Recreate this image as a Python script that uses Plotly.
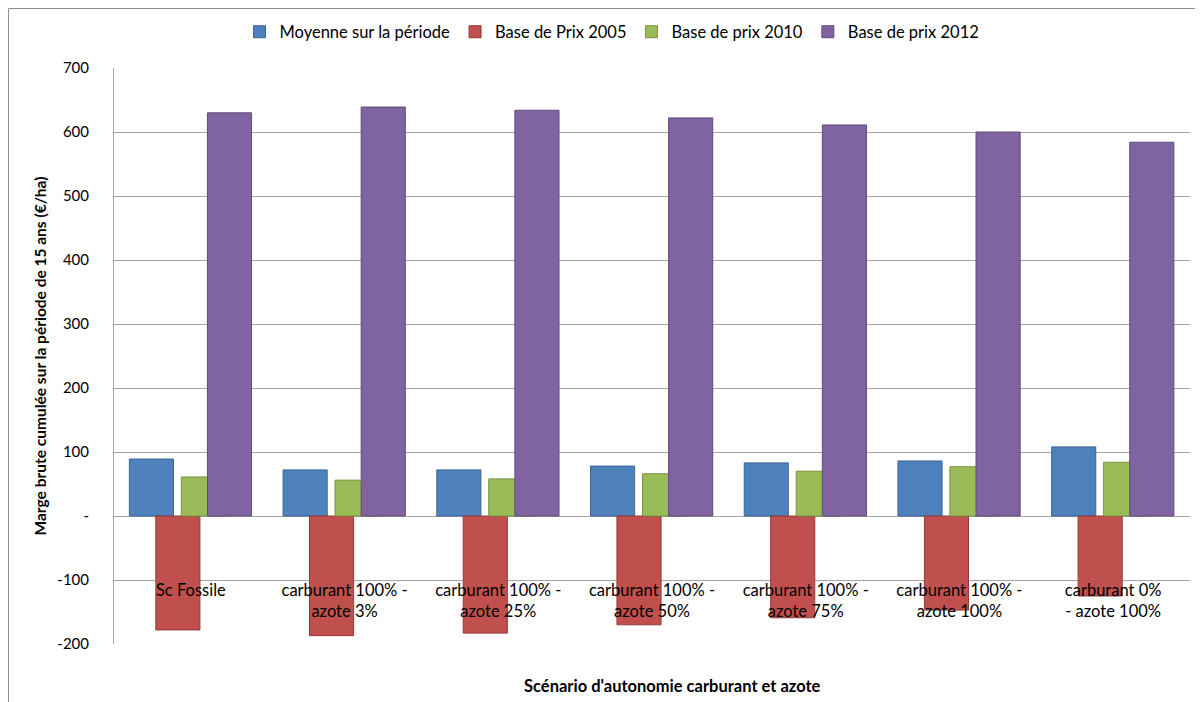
import plotly.graph_objects as go

categories = [
    "Sc Fossile",
    "carburant 100% -<br>azote 3%",
    "carburant 100% -<br>azote 25%",
    "carburant 100% -<br>azote 50%",
    "carburant 100% -<br>azote 75%",
    "carburant 100% -<br>azote 100%",
    "carburant 0%<br>- azote 100%",
]
moyenne = [89, 72, 72, 78, 83, 86, 108]
base_2005 = [-178, -187, -183, -170, -159, -147, -125]
base_2010 = [61, 56, 58, 66, 70, 77, 84]
base_2012 = [630, 639, 634, 622, 611, 600, 584]

series_names = ["Moyenne sur la période", "Base de Prix 2005", "Base de prix 2010", "Base de prix 2012"]
series_values = [moyenne, base_2005, base_2010, base_2012]
fill_colors = ["#4F81BD", "#C0504D", "#9BBB59", "#8064A2"]
line_colors = ["#3B6596", "#943A37", "#76923F", "#5F4A7D"]
offsets = [-0.40, -0.228, -0.062, 0.108]
bar_width = 0.287

y_tickvals = [-200, -100, 0, 100, 200, 300, 400, 500, 600, 700]
y_ticktext = ["-200", "-100", "-", "100", "200", "300", "400", "500", "600", "700"]

FONT = "Lato, 'Open Sans', sans-serif"

fig = go.Figure()
for name, vals, fc, lc, off in zip(series_names, series_values, fill_colors, line_colors, offsets):
    fig.add_trace(go.Bar(
        x=categories, y=vals, name=name,
        marker=dict(color=fc, line=dict(color=lc, width=1)),
        offset=off, width=bar_width,
    ))

# page has an 8px body margin; work in screen pixels and convert
OFF = 8
SW, SH = 1203, 702
W, H = SW - OFF, SH - OFF
PL, PR, PT, PB = 114, 1190, 68, 644  # plot area in screen pixels
L, R, T, B = PL - OFF, SW - PR, PT - OFF, SH - PB
pw, ph = PR - PL, PB - PT

def px_x(p):
    return (p - PL) / pw

def px_y(p):
    return (PB - p) / ph

fig.update_layout(
    width=W, height=H,
    margin=dict(l=L, r=R, t=T, b=B, autoexpand=False),
    barmode="overlay",
    plot_bgcolor="white", paper_bgcolor="white",
    font=dict(family=FONT, size=15, color="#000000"),
    showlegend=True,
    legend=dict(
        orientation="h", x=px_x(612), y=px_y(32), xanchor="center", yanchor="middle",
        font=dict(size=16.5, family=FONT), traceorder="normal",
    ),
    xaxis=dict(
        type="category", anchor="free", position=px_y(578),
        showline=False, showgrid=False, zeroline=False, ticks="",
        tickfont=dict(size=16.5, family=FONT, color="#000000"),
        range=[-0.5, 6.5], automargin=False,
    ),
    yaxis=dict(
        range=[-200, 700], tickvals=y_tickvals, ticktext=y_ticktext,
        showgrid=True, gridcolor="#a6a6a6", gridwidth=1,
        zeroline=True, zerolinecolor="#a6a6a6", zerolinewidth=1,
        showline=True, linecolor="#a6a6a6", linewidth=1,
        ticks="", ticklabelstandoff=21,
        tickfont=dict(size=15, family=FONT, color="#000000"),
        title=dict(text="<b>Marge brute cumulée sur la période de 15 ans (€/ha)</b>",
                   font=dict(size=15.5, family=FONT, color="#000000"), standoff=6),
        automargin=False,
    ),
    annotations=[dict(
        text="<b>Scénario d'autonomie carburant et azote</b>",
        xref="paper", yref="paper", x=px_x(672), y=px_y(686),
        xanchor="center", yanchor="middle", showarrow=False,
        font=dict(size=16.5, family=FONT, color="#000000"),
    )],
    shapes=[
        dict(type="line", xref="paper", yref="paper", x0=px_x(8.5), x1=px_x(8.5),
             y0=px_y(8.5), y1=px_y(720), line=dict(color="#8c8c8c", width=1)),
        dict(type="line", xref="paper", yref="paper", x0=px_x(8.5), x1=px_x(1220),
             y0=px_y(8.5), y1=px_y(8.5), line=dict(color="#8c8c8c", width=1)),
    ],
)

fig.write_html("out.html")
